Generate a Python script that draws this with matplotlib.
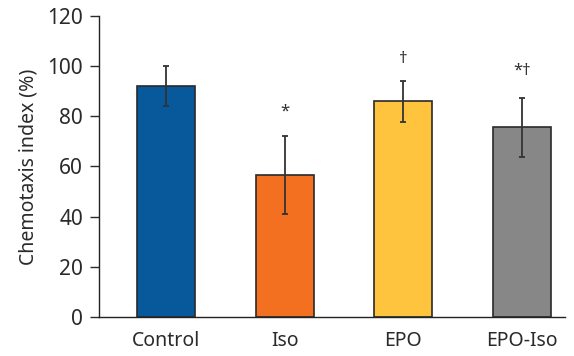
import numpy as np
import matplotlib
matplotlib.use("Agg")
import matplotlib.pyplot as plt

plt.rcParams['font.family'] = ['Noto Sans', 'DejaVu Sans']

groups = ['Control', 'Iso', 'EPO', 'EPO-Iso']
means = [92, 56.5, 86, 75.7]
errors = [8, 15.5, 8.2, 11.8]
marks = ['', '*', '\u2020', '*\u2020']
mark_y = [0, 82, 103, 98]
colors = ['#07599b', '#f37021', '#fec43e', '#888787']

fig = plt.figure(figsize=(5.74, 3.56), dpi=100)
ax = fig.add_axes([0.1725, 0.1096, 0.8115, 0.8455])

x = np.arange(len(groups))
ax.bar(x, means, width=0.49, color=colors, edgecolor='#2a2a2a', linewidth=1.2, zorder=2)
ax.errorbar(x, means, yerr=errors, fmt='none', ecolor='#333333', elinewidth=1.3,
            capsize=2.5, capthick=1.3, zorder=3)

for xi, m, yy in zip(x, marks, mark_y):
    if m:
        ax.text(xi, yy, m, ha='center', va='center', fontsize=12, color='#333333',
                fontweight='light')

ax.set_xlim(-0.565, 3.36)
ax.set_ylim(0, 120)
ax.set_yticks(range(0, 121, 20))
ax.set_xticks(x)
ax.set_xticklabels(groups)
ax.set_ylabel('Chemotaxis index (%)', fontsize=14, color='#2a2a2a', labelpad=6)
ax.tick_params(axis='y', length=6.5, width=1, labelsize=15, colors='#2a2a2a', pad=5)
ax.tick_params(axis='x', length=0, labelsize=14, colors='#2a2a2a', pad=10)
for s in ['top', 'right']:
    ax.spines[s].set_visible(False)
for s in ['left', 'bottom']:
    ax.spines[s].set_linewidth(1)
    ax.spines[s].set_color('#222222')

fig.savefig('out.png', dpi=100)
